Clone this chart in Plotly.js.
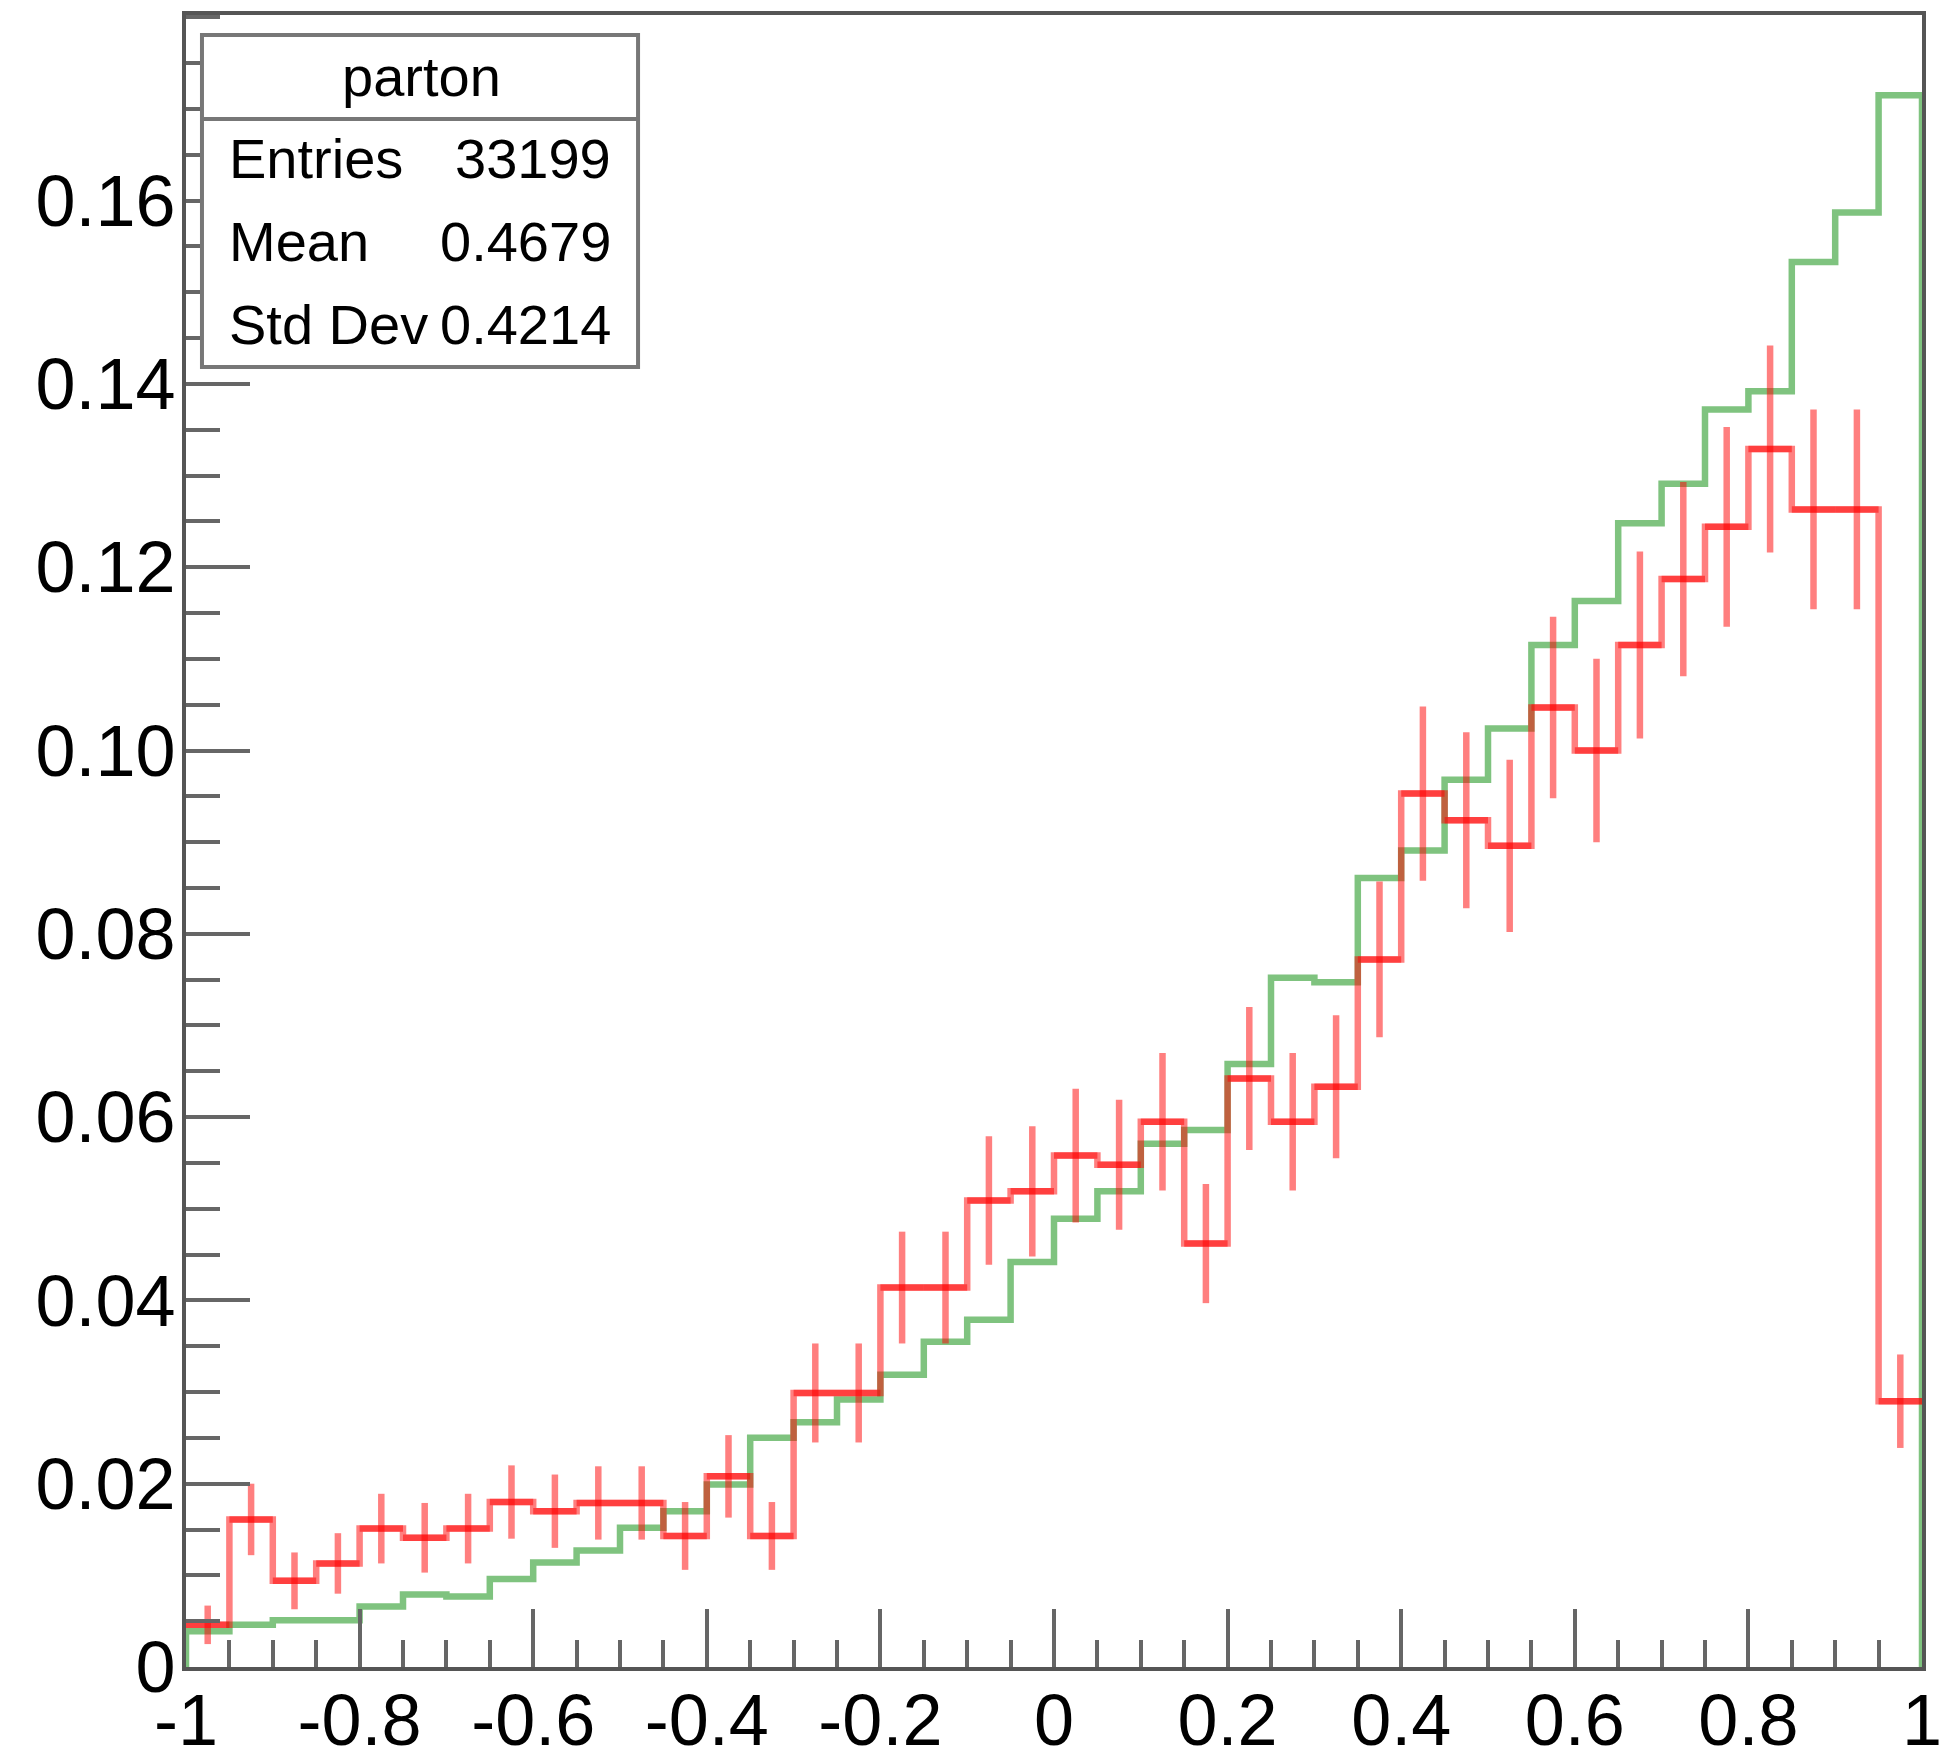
<!DOCTYPE html>
<html><head><meta charset="utf-8">
<script src="https://cdn.plot.ly/plotly-3.0.1.min.js"></script>
<style>html,body{margin:0;padding:0;background:#fff;}#chart{width:1942px;height:1762px;}</style>
</head><body><div id="chart"></div>
<script>
// ---- data ----
const binEdges = [-1.00,-0.95,-0.90,-0.85,-0.80,-0.75,-0.70,-0.65,-0.60,-0.55,
  -0.50,-0.45,-0.40,-0.35,-0.30,-0.25,-0.20,-0.15,-0.10,-0.05,
  0.00,0.05,0.10,0.15,0.20,0.25,0.30,0.35,0.40,0.45,
  0.50,0.55,0.60,0.65,0.70,0.75,0.80,0.85,0.90,0.95,1.00];

const partonHist = [0.0039,0.0046,0.0051,0.0051,0.0066,0.0079,0.0077,0.0096,0.0114,0.0127,
  0.0152,0.0170,0.0199,0.0250,0.0267,0.0292,0.0319,0.0355,0.0379,0.0442,
  0.0489,0.0519,0.0571,0.0586,0.0658,0.0752,0.0747,0.0861,0.0891,0.0968,
  0.1024,0.1115,0.1163,0.1248,0.1291,0.1372,0.1392,0.1533,0.1587,0.1715];

const measHist = [0.0046,0.0161,0.0094,0.0113,0.0151,0.0141,0.0151,0.0180,0.0170,0.0179,
  0.0179,0.0143,0.0208,0.0143,0.0299,0.0299,0.0414,0.0414,0.0509,0.0519,
  0.0558,0.0548,0.0595,0.0462,0.0642,0.0595,0.0633,0.0772,0.0953,0.0924,
  0.0896,0.1047,0.1000,0.1115,0.1187,0.1244,0.1329,0.1263,0.1263,0.0290];

const measErr = [0.0021,0.0039,0.0031,0.0033,0.0038,0.0038,0.0038,0.0040,0.0040,0.0040,
  0.0040,0.0037,0.0045,0.0037,0.0054,0.0054,0.0061,0.0061,0.0070,0.0071,
  0.0073,0.0071,0.0075,0.0065,0.0078,0.0075,0.0078,0.0085,0.0095,0.0096,
  0.0094,0.0099,0.0100,0.0102,0.0106,0.0109,0.0113,0.0109,0.0109,0.0051];

const yTickVals = [0,0.02,0.04,0.06,0.08,0.10,0.12,0.14,0.16];
const yTickText = ['0','0.02','0.04','0.06','0.08','0.10','0.12','0.14','0.16'];
const xTickVals = [-1,-0.8,-0.6,-0.4,-0.2,0,0.2,0.4,0.6,0.8,1];
const xTickText = ['-1','-0.8','-0.6','-0.4','-0.2','0','0.2','0.4','0.6','0.8','1'];

const statsTitle = 'parton';
const statsLabels = ['Entries','Mean','Std Dev'];
const statsValues = ['33199','0.4679','0.4214'];

// ---- build traces ----
const nb = partonHist.length;
const lows = binEdges.slice(0, nb);
const hi = binEdges[nb];
const centers = lows.map((v, i) => (v + binEdges[i + 1]) / 2);
const halfW = lows.map((v, i) => (binEdges[i + 1] - v) / 2);

const FONT = 'Liberation Sans, Arial, Helvetica, sans-serif';
const greenCol = 'rgba(10,140,10,0.52)';
const redCol = 'rgba(255,0,0,0.5)';
const LW = 6.5;

const greenTrace = {
  x: [lows[0]].concat(lows, [hi, hi]),
  y: [0].concat(partonHist, [partonHist[nb - 1], 0]),
  mode: 'lines', line: {shape: 'hv', color: greenCol, width: LW},
  hoverinfo: 'skip', showlegend: false
};
const redStep = {
  x: lows.concat([hi]),
  y: measHist.concat([measHist[nb - 1]]),
  mode: 'lines', line: {shape: 'hv', color: redCol, width: LW},
  hoverinfo: 'skip', showlegend: false
};
const redErr = {
  x: centers, y: measHist, mode: 'markers',
  marker: {size: 1, color: 'rgba(0,0,0,0)'},
  error_y: {type: 'data', array: measErr, visible: true, color: redCol, thickness: LW, width: 0},
  error_x: {type: 'data', array: halfW, visible: true, color: redCol, thickness: LW, width: 0},
  hoverinfo: 'skip', showlegend: false
};

const yMinor = []; for (let k = 0; k <= 36; k++) yMinor.push(k * 0.005);
const xMinor = []; for (let k = 0; k <= 40; k++) xMinor.push(-1 + k * 0.05);

const axisCommon = {
  showgrid: false, zeroline: false, showline: true, linecolor: '#555', linewidth: 4,
  mirror: true, ticks: 'inside', tickwidth: 4, tickcolor: '#666',
  ticklabeloverflow: 'allow',
  tickmode: 'array', tickfont: {family: FONT, size: 72, color: '#000'}, fixedrange: true
};

const layout = {
  width: 1942, height: 1762,
  margin: {l: 186, r: 20, t: 15, b: 95, pad: 0},
  paper_bgcolor: '#fff', plot_bgcolor: '#fff',
  showlegend: false,
  xaxis: Object.assign({}, axisCommon, {
    range: [-1, 1], tickvals: xTickVals, ticktext: xTickText, ticklen: 58,
    ticklabelstandoff: -12,
    minor: {ticks: 'inside', tickmode: 'array', tickvals: xMinor, ticklen: 27, tickwidth: 4, tickcolor: '#666', showgrid: false}
  }),
  yaxis: Object.assign({}, axisCommon, {
    range: [0, 0.18025], tickvals: yTickVals, ticktext: yTickText, ticklen: 64,
    ticklabelstandoff: -8,
    minor: {ticks: 'inside', tickmode: 'array', tickvals: yMinor, ticklen: 34, tickwidth: 4, tickcolor: '#666', showgrid: false}
  }),
  shapes: [
    {type: 'rect', xref: 'paper', yref: 'paper', x0: 0.0092, x1: 0.2604, y0: 0.7869, y1: 0.9879,
     line: {color: '#777', width: 4}, fillcolor: '#fff', layer: 'above'},
    {type: 'line', xref: 'paper', yref: 'paper', x0: 0.0092, x1: 0.2604, y0: 0.9370, y1: 0.9370,
     line: {color: '#777', width: 4}, layer: 'above'}
  ],
  annotations: []
};

layout.annotations.push({xref: 'paper', yref: 'paper', x: 0.1354, y: 0.9625, text: statsTitle,
  showarrow: false, xanchor: 'center', yanchor: 'middle', font: {family: FONT, size: 56, color: '#000'}});
const rowY = [0.9131, 0.8629, 0.8127];
statsLabels.forEach((lab, i) => {
  layout.annotations.push({xref: 'paper', yref: 'paper', x: 0.0234, y: rowY[i], text: lab,
    showarrow: false, xanchor: 'left', yanchor: 'middle', font: {family: FONT, size: 56, color: '#000'}});
  layout.annotations.push({xref: 'paper', yref: 'paper', x: 0.2460, y: rowY[i], text: statsValues[i],
    showarrow: false, xanchor: 'right', yanchor: 'middle', font: {family: FONT, size: 56, color: '#000'}});
});

Plotly.newPlot('chart', [greenTrace, redStep, redErr], layout, {displayModeBar: false, staticPlot: true});
</script>
</body></html>
